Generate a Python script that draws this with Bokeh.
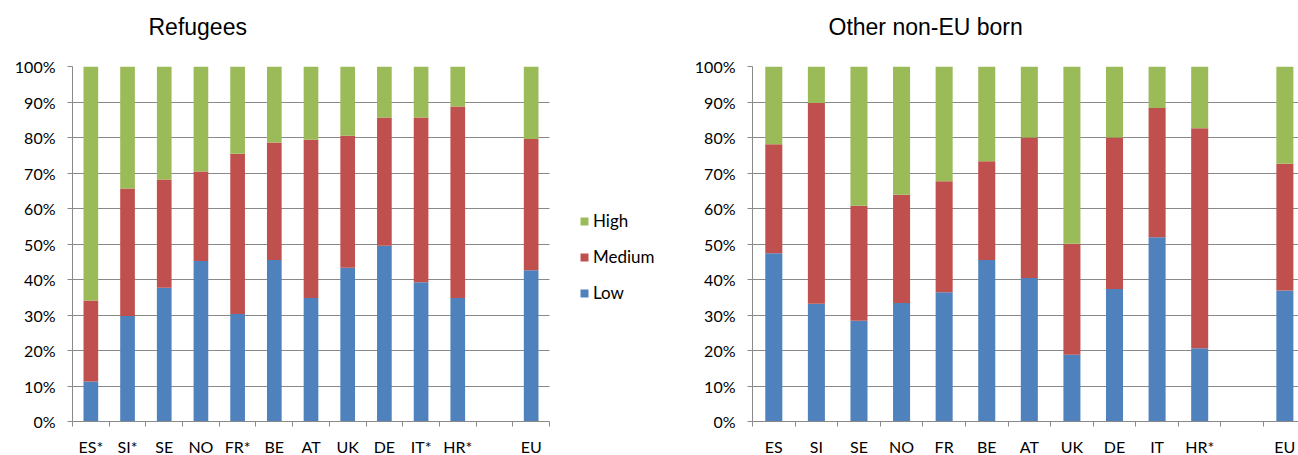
import math
from bokeh.plotting import figure
from bokeh.models import (Range1d, FixedTicker, NumeralTickFormatter, Legend,
                          LegendItem, ColumnDataSource)
from bokeh.layouts import row
from bokeh.embed import file_html
from bokeh.resources import INLINE

# ---------------- data (percent) ----------------
ref_labels = ["ES*", "SI*", "SE", "NO", "FR*", "BE", "AT", "UK", "DE", "IT*", "HR*", "", "EU"]
ref_low    = [11.3, 29.7, 37.7, 45.2, 30.3, 45.5, 34.8, 43.3, 49.5, 39.2, 34.8, None, 42.6]
ref_medium = [22.8, 35.9, 30.5, 25.2, 45.1, 33.1, 44.6, 37.2, 36.1, 46.4, 53.9, None, 37.0]
ref_high   = [65.9, 34.4, 31.8, 29.6, 24.6, 21.4, 20.6, 19.5, 14.4, 14.4, 11.3, None, 20.4]

oth_labels = ["ES", "SI", "SE", "NO", "FR", "BE", "AT", "UK", "DE", "IT", "HR*", "", "EU"]
oth_low    = [47.4, 33.2, 28.4, 33.4, 36.4, 45.5, 40.4, 18.8, 37.3, 51.9, 20.6, None, 36.9]
oth_medium = [30.7, 56.5, 32.4, 30.5, 31.3, 27.8, 39.6, 31.3, 42.7, 36.4, 62.0, None, 35.7]
oth_high   = [21.9, 10.3, 39.2, 36.1, 32.3, 26.7, 20.0, 49.9, 20.0, 11.7, 17.4, None, 27.4]

series_names = ["Low", "Medium", "High"]
y_ticks = [0, 10, 20, 30, 40, 50, 60, 70, 80, 90, 100]

COLORS = {"Low": "#4F81BD", "Medium": "#C0504D", "High": "#9BBB59"}
GRID = "#898989"
FONT = "Lato"


def frac(vals):
    return [float("nan") if v is None else v / 100.0 for v in vals]


def make_chart(title, labels, low, med, high, frame_w, x_end, legend=False):
    n = len(labels)
    xs = [i + 0.5 for i in range(n)]
    src = ColumnDataSource(dict(x=xs, Low=frac(low), Medium=frac(med), High=frac(high)))
    # trailing newline reserves an empty line below the title, lifting it up
    p = figure(frame_width=frame_w, frame_height=355,
               x_range=Range1d(0, x_end), y_range=Range1d(0, 1),
               output_backend="svg", toolbar_location=None, title=title + "\n",
               min_border_left=72, min_border_right=0,
               min_border_top=66, min_border_bottom=34)
    rs = p.vbar_stack(series_names, x="x", width=0.4, source=src,
                      color=[COLORS[s] for s in series_names], line_width=0)

    p.title.align = "left"
    p.title.vertical_align = "top"
    p.title.offset = 76
    p.title.standoff = 0
    p.title.text_line_height = 0.95
    p.title.text_font = "Liberation Sans"
    p.title.text_font_size = "23px"
    p.title.text_font_style = "normal"
    p.title.text_color = "#000000"

    p.outline_line_color = None
    p.background_fill_color = "white"
    p.border_fill_color = "white"
    p.xgrid.grid_line_color = None
    p.ygrid.grid_line_color = GRID
    p.ygrid.grid_line_width = 1
    p.ygrid.ticker = FixedTicker(ticks=[t / 100 for t in y_ticks])
    p.ygrid.cross_bounds = (0, n)

    ya = p.yaxis[0]
    ya.ticker = FixedTicker(ticks=[t / 100 for t in y_ticks])
    ya.formatter = NumeralTickFormatter(format="0%")
    ya.axis_line_color = GRID
    ya.major_tick_line_color = GRID
    ya.major_tick_out = 5
    ya.major_tick_in = 0
    ya.minor_tick_line_color = None
    ya.major_label_standoff = 12
    ya.major_label_text_font = FONT
    ya.major_label_text_font_size = "16px"
    ya.major_label_text_color = "#000000"

    xa = p.xaxis[0]
    xa.bounds = (0, n)
    xa.ticker = FixedTicker(ticks=xs, minor_ticks=list(range(n + 1)))
    xa.major_label_overrides = {x: lab for x, lab in zip(xs, labels)}
    xa.axis_line_color = GRID
    xa.major_tick_line_color = None
    xa.major_tick_out = 0
    xa.major_tick_in = 0
    xa.minor_tick_line_color = GRID
    xa.minor_tick_out = 5
    xa.minor_tick_in = 0
    xa.major_label_standoff = 10
    xa.major_label_text_font = FONT
    xa.major_label_text_font_size = "16px"
    xa.major_label_text_color = "#000000"

    if legend:
        items = [LegendItem(label=s, renderers=[rs[series_names.index(s)]])
                 for s in ["High", "Medium", "Low"]]
        leg = Legend(items=items, location=(507, 118), padding=0, margin=0,
                     border_line_color=None, background_fill_alpha=0,
                     glyph_width=10, glyph_height=10, label_standoff=4,
                     spacing=15, label_height=20,
                     label_text_font=FONT, label_text_font_size="17px",
                     label_text_color="#000000")
        p.add_layout(leg)
    return p


# left: 13 slots over 477 px, frame stretched to 608 px to host the legend
p1 = make_chart("Refugees", ref_labels, ref_low, ref_medium, ref_high,
                frame_w=608, x_end=13 * 608 / 477, legend=True)
# right: 13 slots of ~42.6 px, cropped at the window edge
p2 = make_chart("Other non-EU born", oth_labels, oth_low, oth_medium, oth_high,
                frame_w=546, x_end=12.82)

layout = row(p1, p2)
open("out.html", "w").write(file_html(layout, INLINE))
